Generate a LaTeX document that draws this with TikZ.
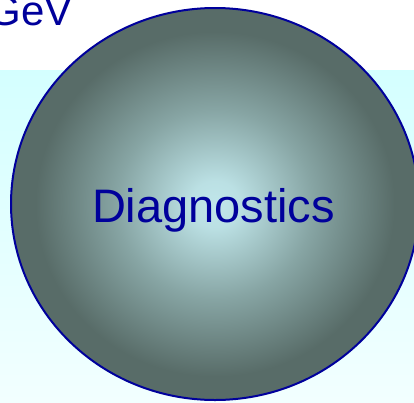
\documentclass[tikz,border=0pt]{standalone}
\usepackage{fontspec}
\setmainfont{Liberation Sans}
\usetikzlibrary{shapes.geometric}
\definecolor{ballcenter}{RGB}{192,230,234}
\definecolor{ballmid}{RGB}{135,165,164}
\definecolor{balledge}{RGB}{88,108,104}
\definecolor{bgtop}{RGB}{212,255,255}
\definecolor{bgbottom}{RGB}{242,255,255}
\definecolor{inkblue}{RGB}{0,0,155}
\pgfdeclareradialshading{ballshade}{\pgfpoint{0bp}{0bp}}{%
  color(0bp)=(ballcenter);
  color(3bp)=(ballcenter!95!balledge);
  color(12bp)=(ballmid);
  color(22bp)=(balledge);
  color(50bp)=(balledge)}
\tikzset{
  ball/.style={ellipse, draw=inkblue, line width=2pt, shading=ballshade,
    minimum width=408pt, minimum height=392pt, inner sep=0pt},
  label/.style={text=inkblue, inner sep=0pt}
}
\begin{document}
\begin{tikzpicture}[x=1pt,y=-1pt]
  \useasboundingbox (0,0) rectangle (414,402);
  \shade[top color=bgtop, bottom color=bgbottom] (0,70) rectangle (414,402);
  \node[label, anchor=base east, font=\fontsize{42}{44}\selectfont] (gev) at (73,25) {GeV};
  \node[ball] (ball) at (215,204) {};
  \node[label, anchor=base, font=\fontsize{47}{50}\selectfont] (diag) at (213.5,222) {Diagnostics};
\end{tikzpicture}
\end{document}
